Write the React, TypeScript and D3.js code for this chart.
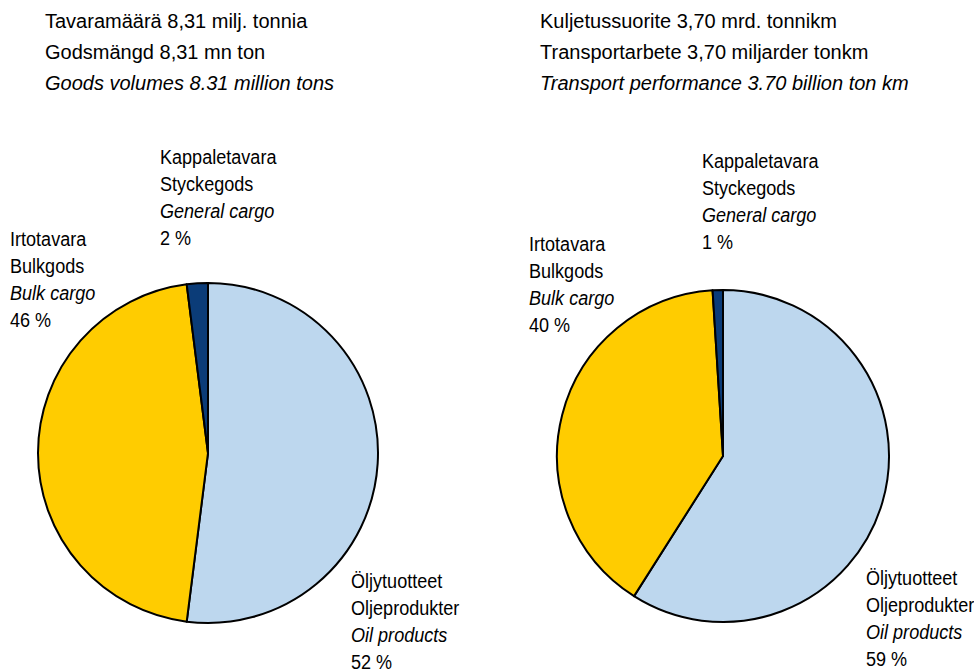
import React from "react";
import * as d3 from "d3";

const categories = ["Oil products", "Bulk cargo", "General cargo"];
const labelsFi = ["Öljytuotteet", "Irtotavara", "Kappaletavara"];
const labelsSv = ["Oljeprodukter", "Bulkgods", "Styckegods"];
const volumeValues = [52, 46, 2];
const performanceValues = [59, 40, 1];
const colors = ["#BDD7EE", "#FFCC00", "#0B3C78"];

const leftTitle = ["Tavaramäärä 8,31 milj. tonnia", "Godsmängd 8,31 mn ton", "Goods volumes 8.31 million tons"];
const rightTitle = ["Kuljetussuorite 3,70 mrd. tonnikm", "Transportarbete 3,70 miljarder tonkm", "Transport performance 3.70 billion ton km"];

const FONT = "'Liberation Sans Narrow', 'Arial Narrow', 'Liberation Sans', Arial, sans-serif";

type PieProps = {
  values: number[];
  cx: number;
  cy: number;
  r: number;
  title: string[];
  titleX: number;
  labelPos: { x: number; y: number }[];
};

function Pie({ values, cx, cy, r, title, titleX, labelPos }: PieProps) {
  const pie = d3.pie<number>().sort(null).value((d) => d);
  const arcs = pie(values);
  const arc = d3.arc<d3.PieArcDatum<number>>().innerRadius(0).outerRadius(r);
  return (
    <g>
      {title.map((t, i) => (
        <text key={i} x={titleX} y={28 + i * 31} fontSize={20} fontStyle={i === 2 ? "italic" : "normal"} fill="#000">
          {t}
        </text>
      ))}
      <g transform={`translate(${cx},${cy})`}>
        {arcs.map((a, i) => (
          <path key={i} d={arc(a) || ""} fill={colors[i]} stroke="#000" strokeWidth={2} strokeLinejoin="round" />
        ))}
      </g>
      {arcs.map((a, i) => {
        const p = labelPos[i];
        const lines = [labelsFi[i], labelsSv[i], categories[i], `${values[i]} %`];
        return (
          <g key={i}>
            {lines.map((l, j) => (
              <text
                key={j}
                transform={`translate(${p.x},${p.y + j * 27}) scale(0.86,1)`}
                fontSize={21}
                fontStyle={j === 2 ? "italic" : "normal"}
                fill="#000"
              >
                {l}
              </text>
            ))}
          </g>
        );
      })}
    </g>
  );
}

export default function App() {
  return (
    <svg width={974} height={671} style={{ position: "absolute", left: 0, top: 0, fontFamily: FONT }}>
      <rect width={974} height={671} fill="#fff" />
      <Pie
        values={volumeValues}
        cx={208}
        cy={453}
        r={170}
        title={leftTitle}
        titleX={45}
        labelPos={[{ x: 351, y: 588 }, { x: 10, y: 246 }, { x: 160, y: 164 }]}
      />
      <Pie
        values={performanceValues}
        cx={723}
        cy={456}
        r={166}
        title={rightTitle}
        titleX={540}
        labelPos={[{ x: 866, y: 585 }, { x: 529, y: 251 }, { x: 702, y: 168 }]}
      />
    </svg>
  );
}
